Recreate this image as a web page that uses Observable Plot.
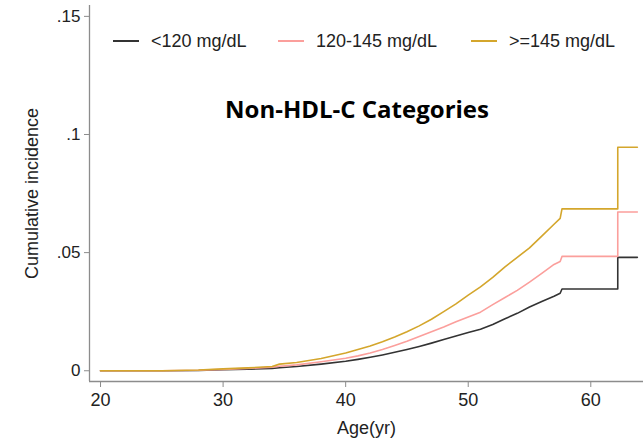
<!DOCTYPE html>
<html>
<head>
<meta charset="utf-8">
<script src="https://cdn.jsdelivr.net/npm/d3@7"></script>
<script src="https://cdn.jsdelivr.net/npm/@observablehq/plot@0.6"></script>
<style>
  body { margin: 0; background: #fff; }
  #wrap { position: relative; width: 643px; height: 439px; overflow: hidden; font-family: "Liberation Sans", Arial, sans-serif; }
  #legend { position: absolute; left: 0; top: 30px; height: 22px; font-size: 18px; color: #222; }
  .item { position: absolute; top: 0; white-space: nowrap; line-height: 22px; }
  .swatch { display: inline-block; width: 26px; height: 0; border-top: 2px solid; vertical-align: middle; margin-right: 12px; position: relative; top: -1px; }
  #title { position: absolute; left: 0; width: 714px; top: 92px; text-align: center; font-family: "Open Sans", sans-serif; font-weight: bold; font-size: 24px; color: #000; }
</style>
</head>
<body>
<div id="wrap">
  <div id="chart"></div>
  <div id="legend"></div>
  <div id="title">Non-HDL-C Categories</div>
</div>
<script>
const seriesNames = ["<120 mg/dL", "120-145 mg/dL", ">=145 mg/dL"];
const seriesColors = ["#333333", "#fb9f9c", "#d4a62c"];

const ages = [20, 25, 28, 30, 32, 34, 34.6, 36, 38, 40, 41, 42, 43, 44, 45, 46, 47, 48, 49, 50, 51, 52, 53, 54, 55, 56, 57, 57.5, 57.65, 62.2, 62.2, 63.8];

const lowValues = [0, 0, 0.0001, 0.0004, 0.0007, 0.001, 0.0013, 0.0018, 0.0028, 0.004, 0.0048, 0.0057, 0.0067, 0.0078, 0.009, 0.0103, 0.0117, 0.0132, 0.0147, 0.0162, 0.0176, 0.0196, 0.022, 0.0243, 0.027, 0.0293, 0.0315, 0.0328, 0.0346, 0.0346, 0.048, 0.048];

const midValues = [0, 0, 0.0002, 0.0006, 0.001, 0.0015, 0.0019, 0.0025, 0.0038, 0.0053, 0.0063, 0.0075, 0.009, 0.0107, 0.0125, 0.0145, 0.0165, 0.0185, 0.0207, 0.0228, 0.0248, 0.028, 0.031, 0.034, 0.0375, 0.0412, 0.045, 0.0462, 0.0484, 0.0484, 0.0672, 0.0672];

const highValues = [0, 0, 0.0003, 0.0008, 0.0012, 0.0018, 0.0028, 0.0035, 0.0052, 0.0075, 0.009, 0.0105, 0.0123, 0.0143, 0.0165, 0.019, 0.0218, 0.025, 0.0283, 0.032, 0.0355, 0.0395, 0.044, 0.048, 0.052, 0.057, 0.062, 0.0645, 0.0685, 0.0685, 0.0946, 0.0946];

const xTicks = [20, 30, 40, 50, 60];
const yTicks = [0, 0.05, 0.1, 0.15];

const xDomain = [19.1, 64.3];
const yDomain = [-0.00455, 0.1546];

const allSeries = [lowValues, midValues, highValues];
const data = [];
allSeries.forEach((vals, i) => {
  ages.forEach((a, j) => data.push({ age: a, value: vals[j], group: seriesNames[i] }));
});

const fmtY = d => d === 0 ? "0" : String(+d.toFixed(2)).replace(/^0/, "");
const axisColor = "#8c8c8c";

const plot = Plot.plot({
  width: 643,
  height: 439,
  marginLeft: 89,
  marginRight: 0,
  marginTop: 5,
  marginBottom: 58,
  style: { fontFamily: "Liberation Sans, Arial, sans-serif", background: "#fff", overflow: "visible" },
  x: { domain: xDomain },
  y: { domain: yDomain },
  color: { domain: seriesNames, range: seriesColors },
  marks: [
    Plot.ruleX([xDomain[0]], { stroke: axisColor, strokeWidth: 1.3 }),
    Plot.ruleY([yDomain[0]], { stroke: axisColor, strokeWidth: 1.3 }),
    Plot.axisX({ ticks: xTicks, tickSize: 6, tickPadding: 6, fontSize: 18, stroke: axisColor, color: "#222", label: "Age(yr)", labelAnchor: "center", labelOffset: 52, labelArrow: "none", tickFormat: d => String(d) }),
    Plot.axisY({ ticks: yTicks, tickSize: 5, tickPadding: 4, fontSize: 17, stroke: axisColor, color: "#222", tickFormat: fmtY, label: "Cumulative incidence", labelAnchor: "center", labelOffset: 64, labelArrow: "none" }),
    Plot.line(data, { x: "age", y: "value", z: "group", stroke: "group", curve: "linear", strokeWidth: 1.6 })
  ]
});

document.getElementById("chart").appendChild(plot);

plot.querySelectorAll('[aria-label="x-axis label"] text, [aria-label="y-axis label"] text').forEach(t => {
  t.setAttribute("font-size", "18");
  t.style.fontSize = "18px";
});

const legend = document.getElementById("legend");
const legendLeft = [113, 278, 471];
seriesNames.forEach((n, i) => {
  const div = document.createElement("div");
  div.className = "item";
  div.style.left = legendLeft[i] + "px";
  div.innerHTML = `<span class="swatch" style="border-color:${seriesColors[i]}"></span>`;
  div.appendChild(document.createTextNode(n));
  legend.appendChild(div);
});
</script>
</body>
</html>
